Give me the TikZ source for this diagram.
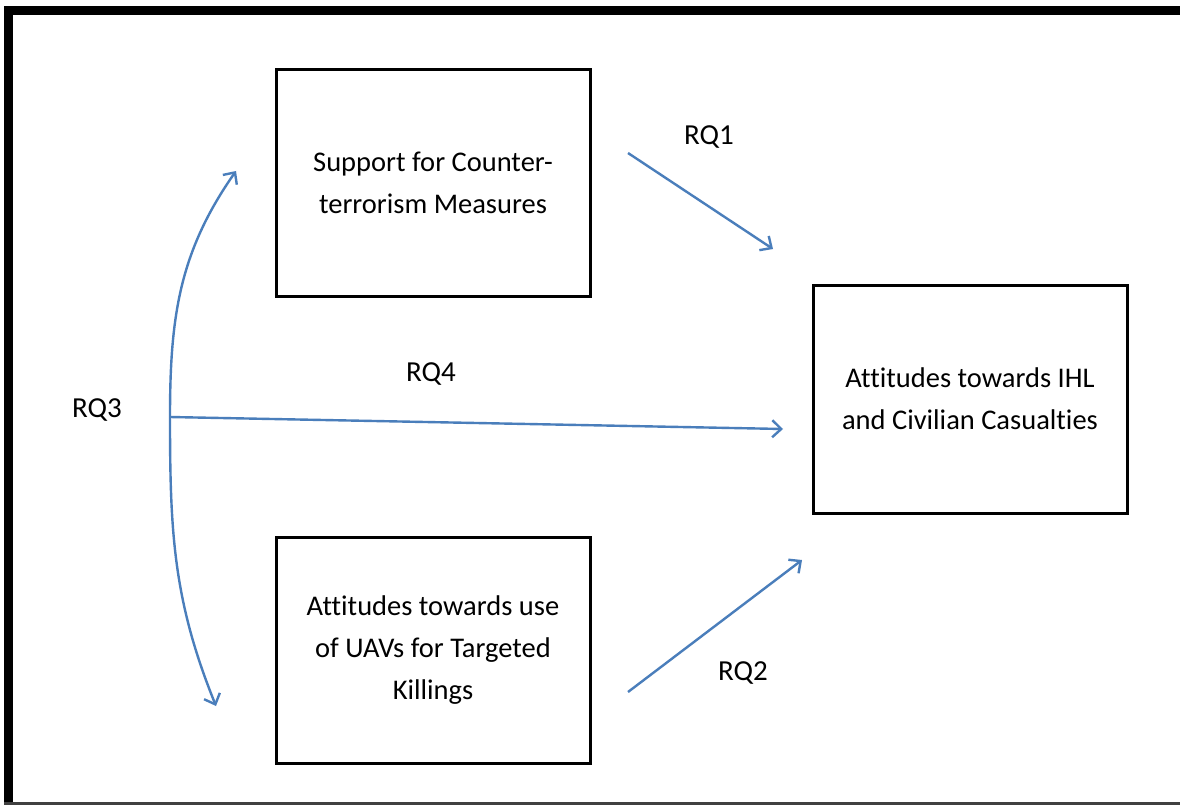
\documentclass[tikz,border=0pt]{standalone}
\usepackage{fontspec}
\setmainfont{Carlito}[Ligatures=NoCommon]
\usetikzlibrary{arrows.meta}
\definecolor{rqblue}{HTML}{4A7EBB}
\tikzset{
  box/.style={draw=black, line width=3pt, minimum width=314pt, align=center,
    font=\fontsize{28.5}{42}\selectfont, inner sep=0pt},
  rqarrow/.style={draw=rqblue, line width=2.4pt,
    -{Straight Barb[length=9pt,width=17pt,line width=2.4pt]}},
  rqlabel/.style={font=\fontsize{29}{34}\selectfont, inner sep=0pt}
}
\begin{document}
\begin{tikzpicture}[x=1pt,y=-1pt]
\useasboundingbox (0,0) rectangle (1180,805);
\fill[white] (0,0) rectangle (1180,805);
% frame
\draw[line width=9pt, black] (8.5,805) -- (8.5,11) -- (1180,11);
\draw[line width=3pt, black!75] (4,803.5) -- (1180,803.5);
% boxes
\node[box, minimum height=226pt] (sup) at (433,183) {Support for Counter-\\terrorism Measures};
\node[box, minimum height=228pt] (ihl) at (970,399) {Attitudes towards IHL\\and Civilian Casualties};
\node[box, minimum height=226pt] (uav) at (433,650) {Attitudes towards use\\of UAVs for Targeted\\Killings};
% connector endpoints
\coordinate (a1s) at (628,153);
\coordinate (a1e) at (773,249);
\coordinate (a2s) at (628,692);
\coordinate (a2e) at (802,560);
\coordinate (mid) at (170,417);
\coordinate (a4e) at (783,429);
\coordinate (top) at (236,171);
\coordinate (bot) at (216,706);
% arrows
\draw[rqarrow] (a1s) -- (a1e);
\draw[rqarrow] (a2s) -- (a2e);
\draw[rqarrow] (mid) -- (a4e);
\draw[rqarrow, {Straight Barb[length=9pt,width=17pt,line width=2.4pt]}-{Straight Barb[length=9pt,width=17pt,line width=2.4pt]}]
  (top) to[out=-125,in=90] (mid) to[out=-90,in=112] (bot);
% labels
\node[rqlabel] (rq1) at (709,137) {RQ1};
\node[rqlabel] (rq2) at (743,673) {RQ2};
\node[rqlabel] (rq3) at (97,410) {RQ3};
\node[rqlabel] (rq4) at (431,374) {RQ4};
\end{tikzpicture}
\end{document}
